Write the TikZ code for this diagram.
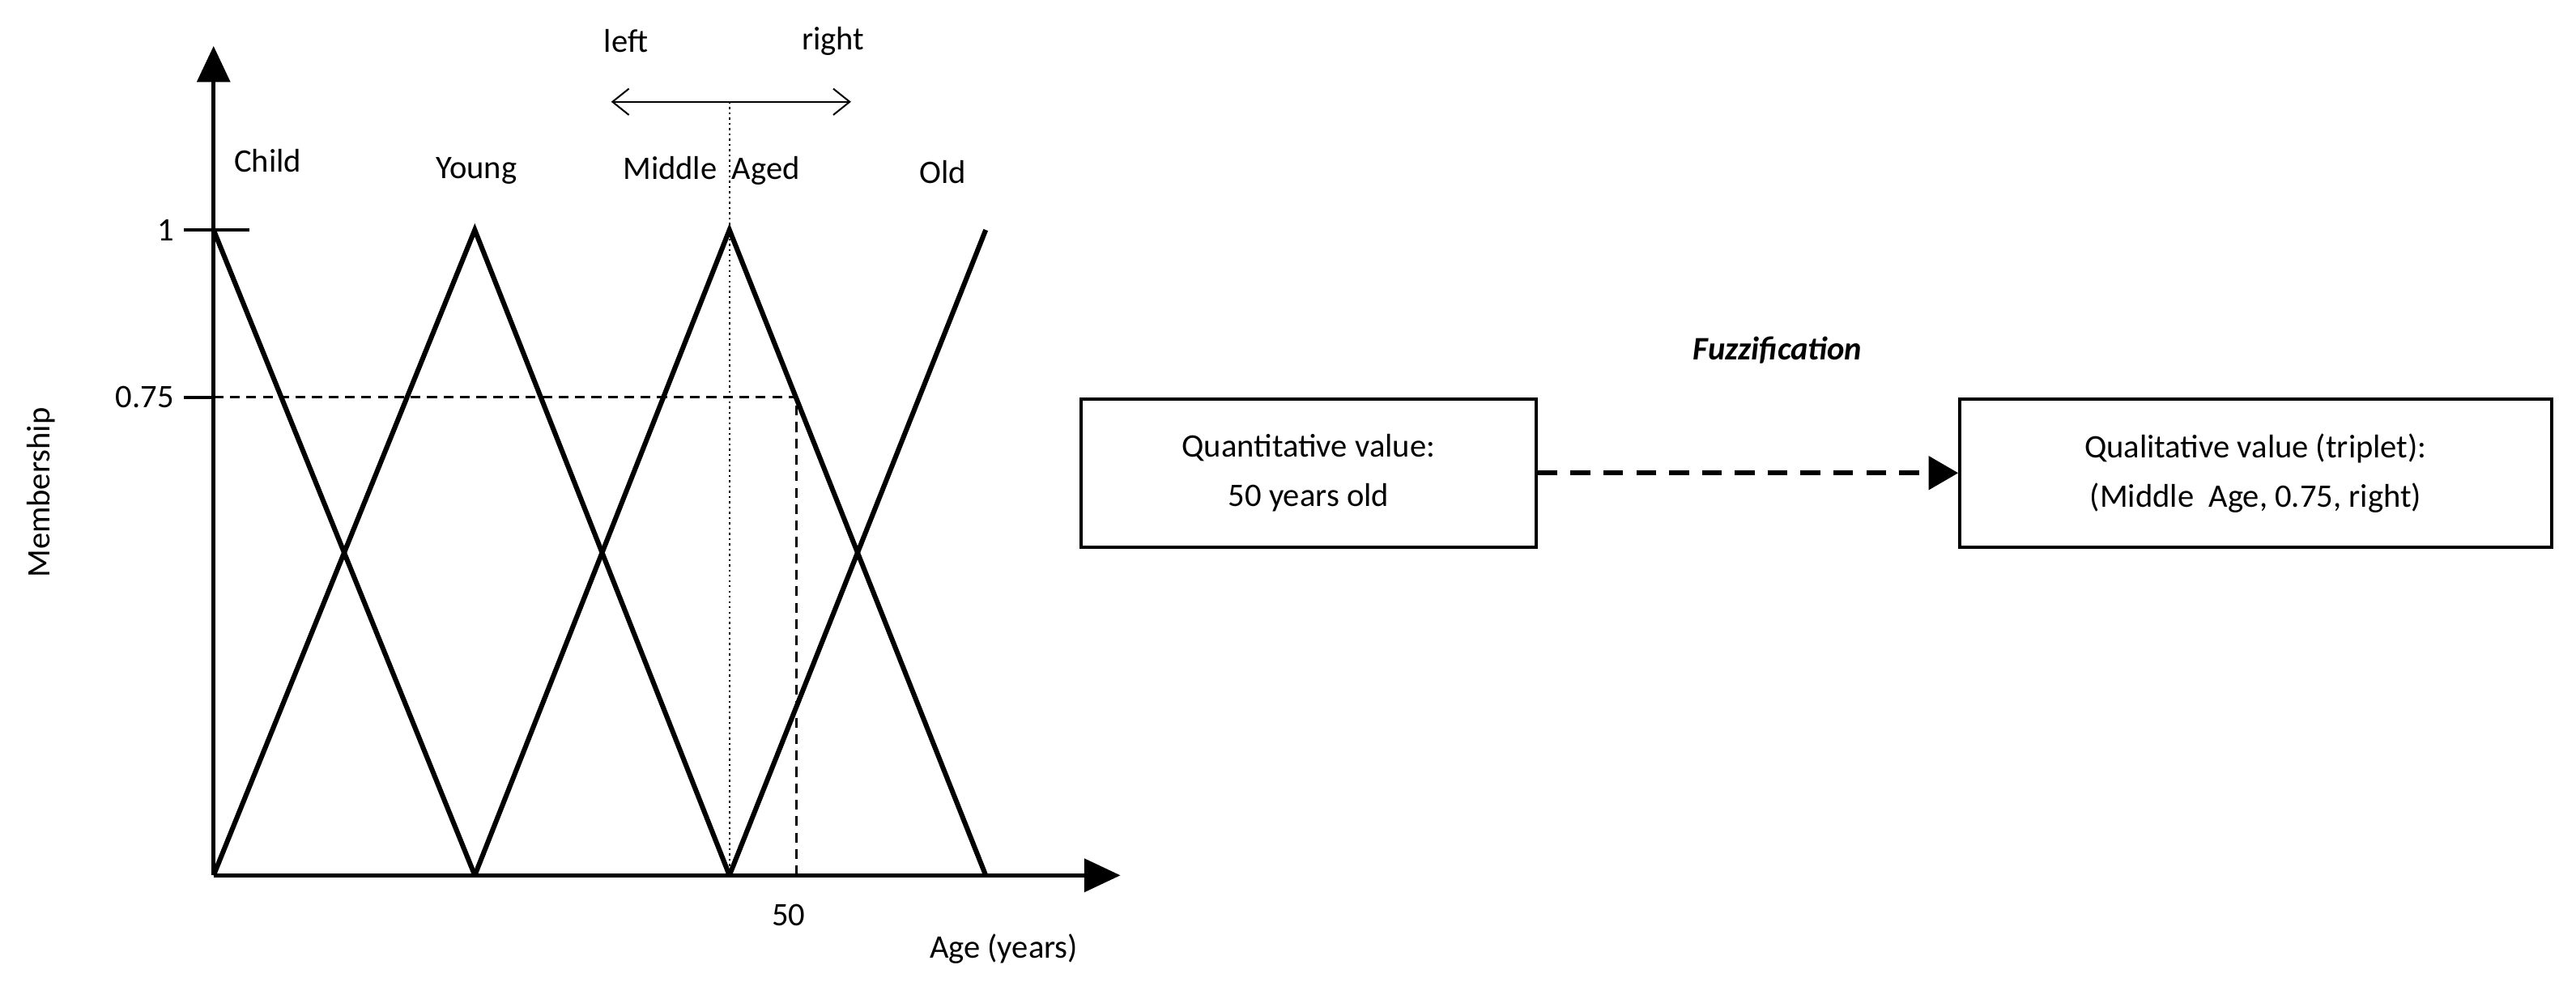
\documentclass[tikz,border=0pt]{standalone}
\usepackage{fontspec}
\setmainfont{Carlito}
\usetikzlibrary{arrows.meta}
\begin{document}
\begin{tikzpicture}[x=1pt,y=-1pt,
  lbl/.style={font=\fontsize{20}{24}\selectfont,inner sep=0pt},
  mf/.style={line width=3pt,line join=miter},
  box/.style={draw,line width=2pt,minimum width=277pt,minimum height=90pt,align=center,font=\fontsize{20}{30}\selectfont}]
\useasboundingbox (0,0) rectangle (1568,600);
\coordinate (O) at (130,533);
\coordinate (Ytop) at (130,28);
\coordinate (Xend) at (682,533);
\draw[line width=2.5pt,-{Triangle[length=22pt,width=20pt]}] (O) -- (Ytop);
\draw[line width=2.5pt,-{Triangle[length=22pt,width=20pt]}] (O) -- (Xend);
\draw[mf] (130,140) -- (289,533);
\draw[mf] (130,533) -- (289,140) -- (444,533);
\draw[mf] (289,533) -- (444,140) -- (600,533);
\draw[mf] (444,533) -- (600,140);
\draw[line width=2pt] (112,140) -- (152,140);
\draw[line width=2pt] (112,242) -- (130,242);
\draw[line width=1.5pt,dash pattern=on 6pt off 4pt] (130,242) -- (485,242) -- (485,533);
\draw[line width=1.2pt,dotted] (444,62) -- (444,533);
\draw[line width=1pt,{Straight Barb[length=10pt,width=16pt]}-{Straight Barb[length=10pt,width=16pt]}] (372,62) -- (518,62);
\node[lbl] (left) at (381,25) {left};
\node[lbl] (right) at (507,25) {right};
\node[lbl] (child) at (163,98) {Child};
\node[lbl] (young) at (290,104) {Young};
\node[lbl] (mid) at (433,104) {Middle \ Aged};
\node[lbl] (old) at (574,105) {Old};
\node[lbl,anchor=east] (one) at (106,140) {1};
\node[lbl,anchor=east] (p75) at (106,242) {0.75};
\node[lbl] (fifty) at (480,557) {50};
\node[lbl] (age) at (611,578) {Age (years)};
\node[lbl,rotate=90] (memb) at (25,300) {Membership};
\node[box] (q) at (796.5,288) {Quantitative value:\\50 years old};
\node[box,minimum width=360pt] (ql) at (1373,288) {Qualitative value (triplet):\\(Middle \ Age, 0.75, right)};
\draw[line width=3pt,dash pattern=on 12pt off 8pt,-{Triangle[length=18pt,width=20pt]}] (q) -- (ql);
\node[lbl,font=\fontsize{20}{24}\selectfont\bfseries\itshape] (fz) at (1082,213) {Fuzzification};
\end{tikzpicture}
\end{document}
